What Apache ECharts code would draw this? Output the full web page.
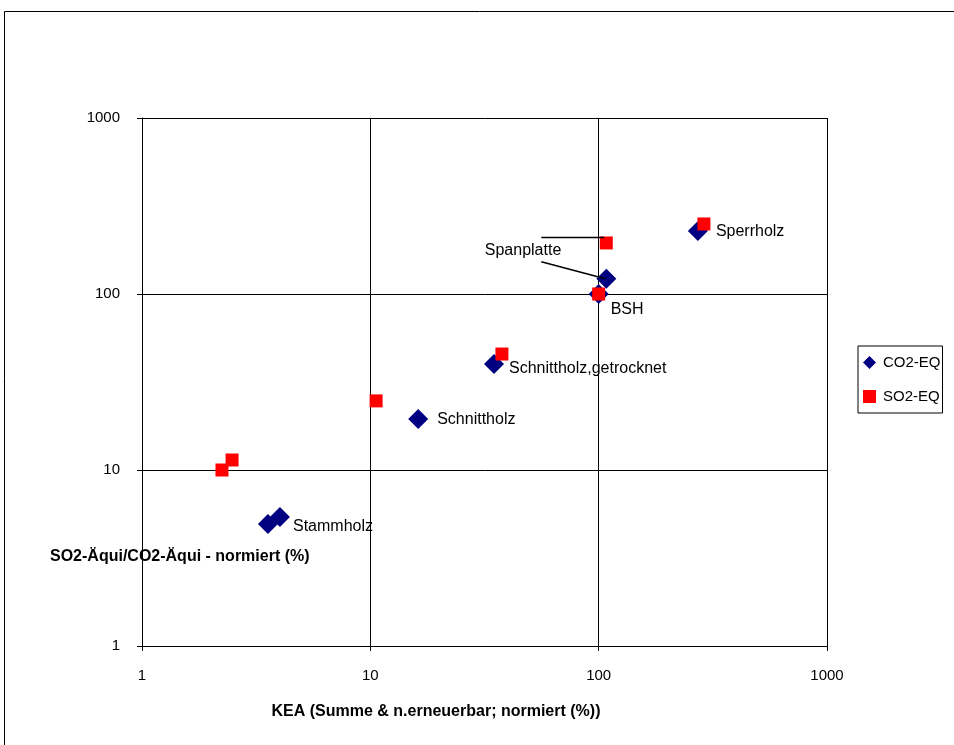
<!DOCTYPE html>
<html>
<head>
<meta charset="utf-8">
<script src="https://cdn.jsdelivr.net/npm/echarts@6/dist/echarts.min.js"></script>
<style>
  html, body { margin: 0; padding: 0; background: #fff; }
  #chart { width: 954px; height: 745px; }
</style>
</head>
<body>
<div id="chart"></div>
<script>
// Wood products: cumulative energy demand vs. normalised emission equivalents (log-log)
const pointLabels = ['', 'Stammholz', 'Schnittholz', 'Schnittholz,getrocknet', 'BSH', 'Spanplatte', 'Sperrholz'];
const co2X = [3.56, 4.02, 16.2, 34.8, 100, 108, 272];
const co2Y = [4.93, 5.41, 19.5, 40.0, 100, 122, 228];
const so2X = [2.24, 2.48, 10.6, 37.7, 100, 108, 289];
const so2Y = [10.0, 11.4, 24.7, 45.6, 100, 195, 250];
const axisTicks = [1, 10, 100, 1000];

const FONT = '"Liberation Sans", Arial, sans-serif';

// where each product name sits relative to its CO2 marker
const labelPlacement = {
  'Stammholz': { position: 'right', distance: 3, offset: [0, 10] },
  'Schnittholz': { position: 'right', distance: 9, offset: [0, 1] },
  'Schnittholz,getrocknet': { position: 'right', distance: 5, offset: [0, 5] },
  'BSH': { position: 'right', distance: 2, offset: [0, 16] },
  'Spanplatte': { position: 'left', distance: 35, offset: [0, -28] },
  'Sperrholz': { position: 'right', distance: 8, offset: [0, 1] }
};

const co2Data = co2X.map((x, i) => {
  const name = pointLabels[i];
  const item = { value: [x, co2Y[i]], name: name };
  if (name) {
    item.label = Object.assign({ show: true, formatter: name }, labelPlacement[name]);
  }
  return item;
});
const so2Data = so2X.map((x, i) => [x, so2Y[i]]);

const chart = echarts.init(document.getElementById('chart'), null, { renderer: 'canvas' });

const logAxis = () => ({
  type: 'log',
  logBase: 10,
  min: axisTicks[0],
  max: axisTicks[axisTicks.length - 1],
  axisLine: { show: true, lineStyle: { color: '#000', width: 1 } },
  axisTick: { show: true, inside: false, length: 5, lineStyle: { color: '#000' } },
  minorTick: { show: false },
  splitLine: { show: true, lineStyle: { color: '#000', width: 1 } },
  axisLabel: {
    color: '#000', fontFamily: FONT, fontSize: 15, margin: 22,
    formatter: (v) => String(Math.round(v))
  }
});

chart.setOption({
  animation: false,
  backgroundColor: '#fff',
  grid: { left: 142, right: 127, top: 118, bottom: 99, containLabel: false },
  xAxis: logAxis(),
  yAxis: logAxis(),
  legend: {
    orient: 'vertical',
    left: 858,
    top: 346,
    padding: [9, 2, 9, 5],
    itemWidth: 13,
    itemHeight: 13,
    itemGap: 19,
    borderColor: '#000',
    borderWidth: 1,
    borderRadius: 0,
    textStyle: { color: '#000', fontFamily: FONT, fontSize: 15, padding: [0, 0, 0, 2] },
    data: [
      { name: 'CO2-EQ', icon: 'diamond' },
      { name: 'SO2-EQ', icon: 'rect' }
    ]
  },
  series: [
    {
      name: 'CO2-EQ',
      type: 'scatter',
      symbol: 'diamond',
      symbolSize: 20,
      itemStyle: { color: '#000080', opacity: 1 },
      label: { show: false, color: '#000', fontFamily: FONT, fontSize: 16 },
      emphasis: { disabled: true },
      data: co2Data,
      z: 2
    },
    {
      name: 'SO2-EQ',
      type: 'scatter',
      symbol: 'rect',
      symbolSize: 13,
      itemStyle: { color: '#ff0000', opacity: 1 },
      emphasis: { disabled: true },
      data: so2Data,
      z: 3
    }
  ]
});

// frame, axis titles and the two Spanplatte leader lines
const spanIdx = pointLabels.indexOf('Spanplatte');
const pCo2 = chart.convertToPixel({ seriesIndex: 0 }, [co2X[spanIdx], co2Y[spanIdx]]);
const pSo2 = chart.convertToPixel({ seriesIndex: 1 }, [so2X[spanIdx], so2Y[spanIdx]]);
const leaderStartX = pCo2[0] - 65;

chart.setOption({
  graphic: [
    {
      type: 'rect', silent: true, z: 100,
      shape: { x: 4.5, y: 11.5, width: 1000, height: 1000 },
      style: { fill: 'none', stroke: '#000', lineWidth: 1 }
    },
    {
      type: 'text', silent: true, z: 100,
      style: {
        text: 'SO2-Äqui/CO2-Äqui - normiert (%)',
        x: 50, y: 557, fill: '#000',
        font: 'bold 16px ' + FONT,
        textAlign: 'left', textVerticalAlign: 'middle'
      }
    },
    {
      type: 'text', silent: true, z: 100,
      style: {
        text: 'KEA (Summe & n.erneuerbar; normiert (%))',
        x: 436, y: 712, fill: '#000',
        font: 'bold 16px ' + FONT,
        textAlign: 'center', textVerticalAlign: 'middle'
      }
    },
    {
      type: 'line', silent: true, z: 100,
      shape: { x1: leaderStartX, y1: Math.round(pSo2[1] - 6) + 0.5, x2: pSo2[0] - 2, y2: Math.round(pSo2[1] - 6) + 0.5 },
      style: { stroke: '#000', lineWidth: 1.5 }
    },
    {
      type: 'line', silent: true, z: 100,
      shape: { x1: leaderStartX, y1: pCo2[1] - 17, x2: pCo2[0] - 1, y2: pCo2[1] },
      style: { stroke: '#000', lineWidth: 1.5 }
    }
  ]
});
</script>
</body>
</html>
